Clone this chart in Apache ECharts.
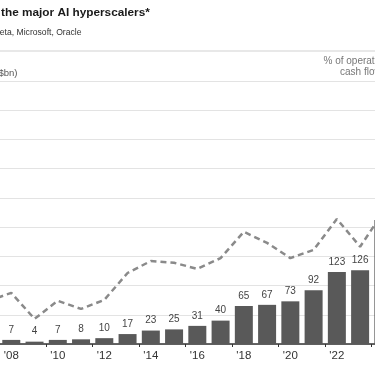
<!DOCTYPE html>
<html>
<head>
<meta charset="utf-8">
<script src="https://cdn.jsdelivr.net/npm/echarts@6/dist/echarts.min.js"></script>
<style>
html,body{margin:0;padding:0;background:#fff;}
#c{width:375px;height:366px;}
</style>
</head>
<body>
<div id="c"></div>
<script>
// Data (2007 bar/line sits just off the left edge of the crop, 2024 at the right edge)
const categories = ["'07","'08","'09","'10","'11","'12","'13","'14","'15","'16","'17","'18","'19","'20","'21","'22","'23","'24"];
const capexBn = [5, 7, 4, 7, 8, 10, 17, 23, 25, 31, 40, 65, 67, 73, 92, 123, 126, 212];
const pctOperatingCashFlow = [14.7, 17.5, 8.6, 14.8, 12.0, 15.1, 24.3, 28.4, 27.8, 25.7, 29.4, 38.4, 34.6, 29.4, 32.2, 42.8, 33.3, 45.2];
const titleText = "the major AI hyperscalers*";
const subtitleText = "Meta, Microsoft, Oracle";
const leftUnitText = "($bn)";
const rightUnitLine1 = "% of operating";
const rightUnitLine2 = "cash flow";

const FONT = "'Liberation Sans', Arial, sans-serif";
const chart = echarts.init(document.getElementById('c'), null, {renderer: 'canvas'});
chart.setOption({
  animation: false,
  backgroundColor: '#ffffff',
  grid: {left: -23.6, right: -20, top: 81, bottom: 22, outerBoundsMode: 'none', containLabel: false},
  graphic: [
    {type: 'text', left: 1, top: 7, style: {text: titleText, font: "bold 11.8px " + FONT, fill: '#1a1a1a'}},
    {type: 'text', x: 81.5, y: 33, style: {text: subtitleText, font: "8.6px " + FONT, fill: '#333', textAlign: 'right', textVerticalAlign: 'middle'}},
    {type: 'line', shape: {x1: 0, y1: 51, x2: 375, y2: 51}, style: {stroke: '#e0e0e0', lineWidth: 1.5}},
    {type: 'text', x: 17.5, y: 73, style: {text: leftUnitText, font: "9.5px " + FONT, fill: '#555', textAlign: 'right', textVerticalAlign: 'middle'}},
    {type: 'text', x: 323.5, y: 61, style: {text: rightUnitLine1, font: "10px " + FONT, fill: '#777', textAlign: 'left', textVerticalAlign: 'middle'}},
    {type: 'text', x: 340, y: 72.5, style: {text: rightUnitLine2, font: "10px " + FONT, fill: '#777', textAlign: 'left', textVerticalAlign: 'middle'}}
  ],
  xAxis: {
    type: 'category',
    data: categories,
    boundaryGap: true,
    axisLine: {show: true, lineStyle: {color: '#333', width: 1.5}},
    axisTick: {show: true, length: 3, interval: function (i) { return i % 2 === 1; }, lineStyle: {color: '#333', width: 1}},
    axisLabel: {interval: function (i) { return i % 2 === 1; }, color: '#333', fontSize: 11.5, fontFamily: FONT, margin: 6}
  },
  yAxis: [
    {type: 'value', min: 0, max: 450, interval: 50, axisLabel: {show: false}, axisLine: {show: false}, axisTick: {show: false},
     splitLine: {show: true, lineStyle: {color: '#e3e3e3', width: 1.2}}},
    {type: 'value', min: 0, max: 90, interval: 10, axisLabel: {show: false}, axisLine: {show: false}, axisTick: {show: false},
     splitLine: {show: false}}
  ],
  series: [
    {type: 'bar', yAxisIndex: 0, data: capexBn, barWidth: 18,
     itemStyle: {color: '#595959'},
     label: {show: true, position: 'top', distance: 5, color: '#444', fontSize: 10, fontFamily: FONT}},
    {type: 'line', yAxisIndex: 1, data: pctOperatingCashFlow, showSymbol: false, symbol: 'none', z: 3,
     lineStyle: {color: '#8a8a8a', width: 2.5, type: [6, 4]}}
  ]
});
</script>
</body>
</html>
